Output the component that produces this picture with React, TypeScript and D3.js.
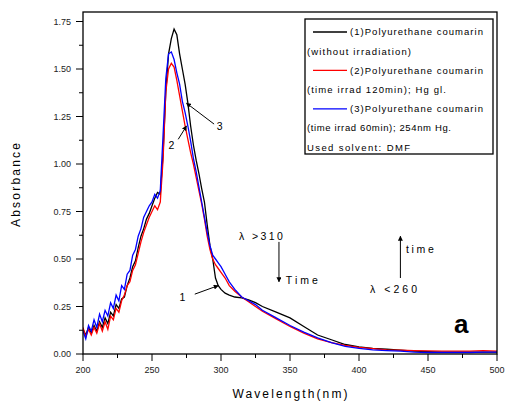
import React from "react";
import * as d3 from "d3";

// wavelength grid (nm) shared by the three spectra
const wavelengths = [
  200, 202, 204, 206, 208, 210, 212, 214, 216, 218, 220, 222, 224, 226, 228, 230,
  232, 234, 236, 238, 240, 242, 244, 246, 248, 250, 252, 254, 256, 258, 260, 262,
  264, 266, 268, 270, 272, 274, 276, 278, 280, 282, 284, 286, 288, 290, 292, 294,
  296, 298, 300, 303, 306, 310, 315, 320, 325, 330, 340, 350, 360, 370, 380, 390,
  400, 410, 420, 430, 440, 450, 460, 470, 480, 490, 500,
];

// (1) without irradiation
const seriesBlack = [
  0.13, 0.1, 0.14, 0.11, 0.15, 0.12, 0.17, 0.14, 0.19, 0.16, 0.22, 0.2, 0.26, 0.24, 0.29, 0.3,
  0.36, 0.4, 0.46, 0.49, 0.56, 0.62, 0.66, 0.71, 0.74, 0.78, 0.82, 0.85, 0.84, 1.05, 1.38, 1.58,
  1.66, 1.71, 1.68, 1.58, 1.5, 1.42, 1.32, 1.2, 1.1, 1.02, 0.95, 0.87, 0.8, 0.68, 0.57, 0.5,
  0.4, 0.36, 0.34, 0.32, 0.31, 0.3, 0.295, 0.285, 0.27, 0.25, 0.22, 0.19, 0.145, 0.1, 0.075, 0.05,
  0.037, 0.03, 0.025, 0.02, 0.015, 0.012, 0.01, 0.01, 0.01, 0.01, 0.01,
];

// (2) irradiated 120 min, Hg
const seriesRed = [
  0.14, 0.09, 0.13, 0.1, 0.14, 0.11, 0.16, 0.12, 0.17, 0.13, 0.2, 0.18, 0.24, 0.22, 0.28, 0.31,
  0.36, 0.38, 0.44, 0.47, 0.53, 0.59, 0.64, 0.68, 0.72, 0.75, 0.78, 0.76, 0.8, 1.02, 1.38, 1.5,
  1.53, 1.51, 1.44, 1.36, 1.28, 1.2, 1.13, 1.06, 1.0, 0.93, 0.86, 0.79, 0.71, 0.62, 0.55, 0.5,
  0.47, 0.45, 0.43, 0.4, 0.36, 0.33, 0.3, 0.275, 0.25, 0.225, 0.185, 0.145, 0.11, 0.08, 0.06, 0.045,
  0.035, 0.028, 0.022, 0.02, 0.018, 0.016, 0.015, 0.015, 0.015, 0.018, 0.015,
];

// (3) irradiated 60 min, 254 nm
const seriesBlue = [
  0.12, 0.08, 0.15, 0.12, 0.18, 0.14, 0.21, 0.17, 0.23, 0.2, 0.27, 0.24, 0.31, 0.28, 0.36, 0.34,
  0.42, 0.44, 0.52, 0.55, 0.62, 0.66, 0.72, 0.75, 0.78, 0.8, 0.84, 0.82, 0.86, 1.15, 1.45, 1.58,
  1.59, 1.55, 1.48, 1.42, 1.33, 1.27, 1.2, 1.12, 1.03, 0.96, 0.88, 0.8, 0.72, 0.64, 0.57, 0.52,
  0.5, 0.48, 0.46, 0.42, 0.38, 0.34, 0.3, 0.28, 0.26, 0.23, 0.19, 0.15, 0.115, 0.085, 0.06, 0.04,
  0.03, 0.022, 0.018, 0.015, 0.01, 0.008, 0.008, 0.008, 0.008, 0.01, 0.01,
];

const legendRows = [
  "(1)Polyurethane coumarin",
  "(without irradiation)",
  "(2)Polyurethane coumarin",
  "(time irrad 120min); Hg gl.",
  "(3)Polyurethane coumarin",
  "(time irrad 60min); 254nm Hg.",
  "Used solvent: DMF",
];
const legendColors = ["#000000", null, "#ff0000", null, "#0000ff", null, null];
const legendWidths = [133, 104, 133, 139, 133, 144, 103];

const margin = { top: 12, right: 11, bottom: 49, left: 83 };
const width = 508;
const height = 403;
const font = "'Liberation Sans', Arial, sans-serif";

export default function App() {
  const plotW = width - margin.left - margin.right;
  const plotH = height - margin.top - margin.bottom;

  const x = d3.scaleLinear().domain([200, 500]).range([0, plotW]);
  const y = d3.scaleLinear().domain([0, 1.8]).range([plotH, 0]);

  const line = d3
    .line<number>()
    .x((d, i) => x(wavelengths[i]))
    .y((d) => y(d));

  const series = [
    { values: seriesBlack, color: "#000000" },
    { values: seriesRed, color: "#ff0000" },
    { values: seriesBlue, color: "#0000ff" },
  ];

  const xTicks = x.ticks(6);
  const xMinor = d3.range(225, 500, 50);
  const yTicks = d3.range(0, 1.76, 0.25);
  const yMinor = d3.range(0.125, 1.8, 0.25);

  return (
    <svg
      width={width}
      height={height}
      style={{ position: "absolute", left: 0, top: 0, background: "#fff" }}
      fontFamily={font}
    >
      <defs>
        <marker id="head" viewBox="0 0 10 10" refX="9" refY="5" markerWidth="5" markerHeight="5" orient="auto">
          <path d="M0,0 L10,5 L0,10 z" fill="#000" />
        </marker>
      </defs>
      <g transform={`translate(${margin.left},${margin.top})`}>
        <clipPath id="plot">
          <rect width={plotW} height={plotH} />
        </clipPath>
        <g clipPath="url(#plot)">
          {series.map((s) => (
            <path key={s.color} d={line(s.values) || ""} fill="none" stroke={s.color} strokeWidth={1.3} />
          ))}
        </g>
        <rect width={plotW} height={plotH} fill="none" stroke="#000" strokeWidth={1.3} />

        {/* y axis */}
        {yTicks.map((t) => (
          <g key={t} transform={`translate(0,${y(t)})`}>
            <line x1={-7} x2={0} stroke="#000" />
            <text x={-12} dy="0.35em" textAnchor="end" fontSize={9} fill="#222">
              {d3.format(".2f")(t)}
            </text>
          </g>
        ))}
        {yMinor.map((t) => (
          <line key={t} x1={-4} x2={0} y1={y(t)} y2={y(t)} stroke="#000" />
        ))}

        {/* x axis */}
        {xTicks.map((t) => (
          <g key={t} transform={`translate(${x(t)},${plotH})`}>
            <line y1={0} y2={7} stroke="#000" />
            <text y={19} textAnchor="middle" fontSize={9} fill="#222">
              {t}
            </text>
          </g>
        ))}
        {xMinor.map((t) => (
          <line key={t} x1={x(t)} x2={x(t)} y1={plotH} y2={plotH + 4} stroke="#000" />
        ))}

        {/* legend */}
        <g transform={`translate(${305 - margin.left},${19 - margin.top})`}>
          <rect width={188} height={135} fill="#fff" stroke="#000" strokeWidth={1.3} />
          {legendRows.map((r, i) => {
            const yy = 13 + i * 19.2;
            const c = legendColors[i];
            return (
              <g key={i}>
                {c && <line x1={8} x2={42} y1={yy} y2={yy} stroke={c} strokeWidth={1.3} />}
                <text
                  x={c ? 45 : 2}
                  y={yy}
                  dy="0.35em"
                  fontSize={9.5}
                  textLength={legendWidths[i]}
                  lengthAdjust="spacing"
                  fill="#000"
                >
                  {r}
                </text>
              </g>
            );
          })}
        </g>

        {/* annotations */}
        <g fontSize={10.5} fill="#000">
          <text x={x(313)} y={y(0.62)} dy="0.35em" textLength={44} lengthAdjust="spacing">
            λ &gt;310
          </text>
          <line x1={x(342)} x2={x(342)} y1={y(0.59)} y2={y(0.38)} stroke="#000" markerEnd="url(#head)" />
          <text x={x(347)} y={y(0.39)} dy="0.35em" textLength={32} lengthAdjust="spacing">
            Time
          </text>
          <line x1={x(430)} x2={x(430)} y1={y(0.4)} y2={y(0.62)} stroke="#000" markerEnd="url(#head)" />
          <text x={x(434)} y={y(0.55)} dy="0.35em" textLength={28} lengthAdjust="spacing">
            time
          </text>
          <text x={x(408)} y={y(0.34)} dy="0.35em" textLength={47} lengthAdjust="spacing">
            λ &lt;260
          </text>

          <text x={x(272)} y={y(0.3)} dy="0.35em" textAnchor="middle">1</text>
          <line x1={x(281)} x2={x(298)} y1={y(0.315)} y2={y(0.36)} stroke="#000" markerEnd="url(#head)" />
          <text x={x(264)} y={y(1.1)} dy="0.35em" textAnchor="middle">2</text>
          <line x1={x(269)} x2={x(275)} y1={y(1.13)} y2={y(1.2)} stroke="#000" markerEnd="url(#head)" />
          <text x={x(299)} y={y(1.2)} dy="0.35em" textAnchor="middle">3</text>
          <line x1={x(295)} x2={x(275)} y1={y(1.21)} y2={y(1.32)} stroke="#000" markerEnd="url(#head)" />

          <text x={x(474)} y={y(0.11)} fontSize={26} fontWeight="bold" textAnchor="middle">
            a
          </text>
        </g>

        {/* axis titles */}
        <text
          transform={`translate(${20 - margin.left},${185 - margin.top}) rotate(-90)`}
          textAnchor="middle"
          fontSize={12}
          textLength={84}
          lengthAdjust="spacing"
        >
          Absorbance
        </text>
        <text
          x={290 - margin.left}
          y={398 - margin.top}
          textAnchor="middle"
          fontSize={12}
          textLength={115}
          lengthAdjust="spacing"
        >
          Wavelength(nm)
        </text>
      </g>
    </svg>
  );
}
